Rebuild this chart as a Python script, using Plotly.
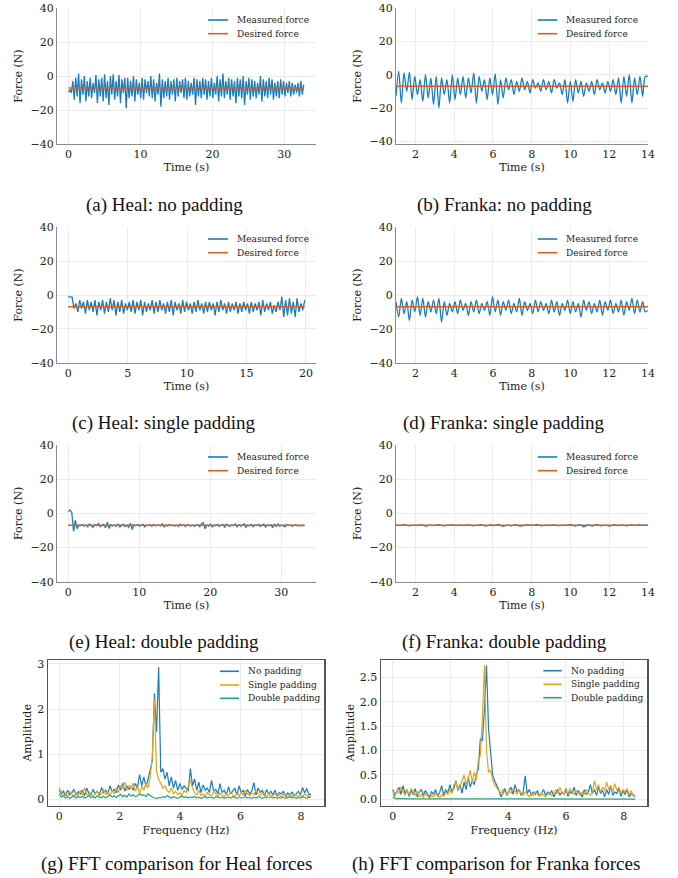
import numpy as np
import plotly.graph_objects as go

W, H = 678, 878

# ======================= DATA =======================
DESIRED_FORCE = -7.0
MEASURED_LABEL = "Measured force"
DESIRED_LABEL = "Desired force"
FFT_LABELS = ["No padding", "Single padding", "Double padding"]

# (a) Heal: no padding  (time span in s, force in N)
heal_none_span = (0.0, 32.7)
heal_none_force = [
    -9.5, -8, -10, -3, -14, -1, -12, 1.5, -16, -2, -11, 0, -15, -3, -12, -1, -13, -4, -10, 0.5,
    -16, -2, -12, -1, -15, 1, -13, -3, -17, 0, -11, 1, -14, -3, -12, 0.5, -16, -2, -10, -1,
    -19, -1, -13, -3, -12, 0, -15, -2, -11, -4, -13, -1, -14, -2, -10, -3, -12, 0, -13, -2,
    -15, -4, -11, 1.5, -18, -2, -13, -3, -12, -1, -14, -3, -11, -2, -15, -1, -12, -3, -10, -2,
    -13, -1, -14, -3, -12, -4, -11, -1, -17, -2, -12, -3, -13, -1, -11, -2, -14, -3, -12, -1,
    -13, -4, -11, 0, -15, -2, -12, 1.5, -13, -3, -11, -1, -14, -2, -12, -3, -16, -1, -12, -2,
    -13, 0, -17, -3, -11, -1, -14, -2, -12, -3, -13, -4, -11, 0, -15, -2, -12, -3, -13, -1,
    -11, -2, -14, -4, -12, -3, -13, -2, -11, -3, -12, -4, -10, -3, -12, -4, -11, -5, -10, -4,
    -12, -3, -11, -5,
]
heal_none_ticks = [0, 10, 20, 30]

# (b) Franka: no padding
franka_none_span = (1.0, 14.0)
franka_none_force = [
    -13, 2, -17, 1, -10, 1.5, -15, -1, -12, -3, -16, 0, -14, -2, -18, -1, -20, -2, -12, -3,
    -17, 0, -15, -2, -12, -1, -14, -2, -11, 1, -17, -1, -10, -3, -15, -2, -12, 0.5, -18, -3,
    -14, -2, -9, -3, -12, -4, -10, -2, -9, -4, -11, -3, -8, -5, -10, -3, -9, -4, -11, -3,
    -8, -5, -12, -3, -17, -4, -16, -3, -11, -4, -13, -5, -10, -4, -12, -3, -9, -5, -11, -4,
    -10, -3, -12, -2, -17, -1, -13, 0, -17, -2, -12, -1, -13, -1, -1,
]
franka_ticks = [2, 4, 6, 8, 10, 12, 14]

# (c) Heal: single padding
heal_single_span = (0.0, 19.9)
heal_single_force = [
    -1, -1, -1.2, -8,
    -5, -10, -3, -8, -4, -11, -3, -9, -4, -10, -3, -12, -4, -9, -3, -11, -4, -10, -2, -9,
    -3, -12, -4, -10, -3, -11, -5, -9, -4, -10, -3, -11, -4, -9, -3, -12, -4, -10, -5, -9,
    -3, -11, -4, -10, -3, -9, -5, -11, -4, -10, -3, -12, -4, -9, -5, -11, -3, -10, -4, -9,
    -5, -11, -4, -10, -3, -9, -5, -11, -4, -10, -4, -9, -5, -12, -4, -10, -3, -9, -5, -11,
    -4, -10, -5, -9, -4, -11, -5, -10, -4, -9, -5, -11, -4, -10, -5, -9, -4, -12, -3, -10,
    -5, -9, -4, -11, -6, -10, -4, -9, -1, -13, -3, -12, -2, -11, -4, -13, -2, -10, -5, -9, -3,
]
heal_single_ticks = [0, 5, 10, 15, 20]

# (d) Franka: single padding
franka_single_span = (1.0, 14.0)
franka_single_force = [
    -4, -13, -2, -11, -4, -15, -3, -10, -1, -12, -2, -13, -4, -10, -3, -11, -2, -16, -4, -12,
    -5, -10, -4, -11, -3, -9, -5, -12, -4, -10, -3, -11, -5, -9, -4, -12, -1, -10, -3, -12,
    -4, -9, -3, -11, -5, -10, -2, -12, -4, -9, -5, -11, -3, -10, -4, -9, -5, -11, -3, -10,
    -4, -12, -5, -9, -3, -11, -4, -10, -5, -13, -3, -9, -4, -11, -5, -10, -3, -12, -4, -9,
    -3, -11, -5, -10, -3, -12, -4, -9, -2, -11, -3, -10, -4, -10, -9,
]

# (e) Heal: double padding
heal_double_span = (0.0, 33.3)
heal_double_force = [
    1, 2, 0.5, -10.5, -4, -9, -7, -7.2, -6.5, -7.5, -6.8, -7.8, -6.2, -7.4, -8.2, -6.6, -7.2, -6, -7.8, -7,
    -6.4, -8.4, -5.2, -8.8, -6.6, -7.4, -6.8, -7.6, -6.3, -7.9, -7, -6.5, -7.7, -6.9, -8.2, -5.8, -9.4, -6.8, -7.3, -6.6,
    -7.5, -7, -6.4, -7.8, -6.9, -7.2, -6.7, -7.6, -6.5, -7.3, -7, -6.8, -7.4, -6.2, -7.9, -6.8, -7.5, -6.6, -7.2, -7,
    -7.4, -6.9, -7.6, -6.4, -7.3, -6.8, -7.7, -6.6, -7.1, -7.4, -6.9, -7.6, -7, -6.7, -7.8, -6.1, -5.5, -9, -6.8, -7.5,
    -6.4, -7.8, -6.9, -7.3, -6.5, -7.7, -7, -6.6, -8, -6.4, -7.2, -7.6, -6.8, -7.3, -6.3, -7.9, -6.6, -7.5, -7, -6.2,
    -8.2, -6.7, -7.4, -6.5, -7.9, -6.9, -7.2, -6.4, -7.6, -7, -6.3, -8, -6.8, -7.3, -6.6, -8.4, -6.5, -7.7, -6.2, -7.5,
    -6.9, -7.3, -7.8, -6.6, -7.2, -6.8, -7.5, -7, -6.7, -7.4, -7.1, -7.3, -7, -7.2,
]
heal_double_ticks = [0, 10, 20, 30]

# (f) Franka: double padding
franka_double_span = (1.0, 14.0)
franka_double_force = [
    -6.8, -7.2, -6.6, -7.3, -6.9, -7.1, -6.7, -7.4, -6.9, -7.2, -6.6, -7.3, -7, -6.8, -7.2, -6.9, -7.1, -6.7, -7.3, -7,
    -6.6, -7.5, -6.8, -7.2, -6.5, -7.6, -6.9, -7.3, -6.6, -7.4, -7.1, -6.8, -7.2, -6.5, -7.3, -6.9, -7.1, -6.8, -7.2, -6.9,
    -7, -6.7, -7.4, -6.6, -7.8, -6.7, -7.4, -6.5, -7.3, -6.9, -7.5, -6.6, -7.2, -6.8, -7.3, -6.7, -7.1, -6.8, -7, -6.9,
]

# (g) FFT of Heal forces (frequency span 0..fmax Hz)
heal_fft_fmax = 8.33
heal_fft_none = [
    0.22, 0.12, 0.18, 0.08, 0.2, 0.1, 0.15, 0.22, 0.09, 0.17,
    0.12, 0.2, 0.08, 0.25, 0.14, 0.1, 0.22, 0.13, 0.18, 0.1,
    0.26, 0.15, 0.2, 0.12, 0.3, 0.18, 0.22, 0.14, 0.32, 0.2,
    0.36, 0.18, 0.3, 0.22, 0.28, 0.2, 0.35, 0.25, 0.55, 0.3,
    0.5, 0.28, 0.45, 0.62, 0.85, 2.35, 1.5, 2.93, 0.6, 0.68,
    0.45, 0.6, 0.3, 0.5, 0.25, 0.42, 0.2, 0.35, 0.22, 0.3,
    0.25, 0.18, 0.68, 0.3, 0.45, 0.2, 0.38, 0.15, 0.32, 0.2,
    0.25, 0.15, 0.42, 0.18, 0.22, 0.12, 0.35, 0.15, 0.2, 0.1,
    0.28, 0.12, 0.18, 0.25, 0.1, 0.3, 0.15, 0.2, 0.08, 0.22,
    0.12, 0.18, 0.37, 0.1, 0.25, 0.15, 0.2, 0.08, 0.22, 0.12,
    0.18, 0.1, 0.2, 0.08, 0.15, 0.12, 0.18, 0.06, 0.14, 0.1,
    0.16, 0.08, 0.12, 0.18, 0.1, 0.26, 0.14, 0.24, 0.1, 0.12,
]
heal_fft_single = [
    0.25, 0.15, 0.08, 0.12, 0.06, 0.18, 0.1, 0.05, 0.14, 0.08,
    0.2, 0.1, 0.26, 0.12, 0.08, 0.15, 0.06, 0.12, 0.18, 0.08,
    0.12, 0.22, 0.1, 0.16, 0.08, 0.2, 0.12, 0.25, 0.15, 0.3,
    0.25, 0.38, 0.2, 0.3, 0.25, 0.36, 0.18, 0.28, 0.12, 0.3,
    0.2, 0.35, 0.25, 0.5, 0.95, 2.22, 0.6, 0.45, 0.35, 0.25,
    0.3, 0.2, 0.15, 0.25, 0.12, 0.18, 0.1, 0.15, 0.08, 0.2,
    0.15, 0.3, 0.42, 0.25, 0.15, 0.1, 0.2, 0.08, 0.12, 0.06,
    0.15, 0.1, 0.08, 0.18, 0.12, 0.06, 0.14, 0.1, 0.05, 0.12,
    0.08, 0.15, 0.1, 0.06, 0.12, 0.08, 0.16, 0.1, 0.2, 0.12,
    0.08, 0.14, 0.1, 0.2, 0.12, 0.08, 0.15, 0.1, 0.06, 0.12,
    0.1, 0.08, 0.14, 0.06, 0.1, 0.05, 0.12, 0.08, 0.04, 0.1,
    0.06, 0.12, 0.08, 0.05, 0.1, 0.06, 0.12, 0.08, 0.05, 0.1,
]
heal_fft_double = [
    0.12, 0.05, 0.08, 0.03, 0.06, 0.02, 0.05, 0.08, 0.03, 0.06,
    0.04, 0.07, 0.03, 0.05, 0.09, 0.04, 0.06, 0.03, 0.08, 0.05,
    0.04, 0.07, 0.03, 0.06, 0.1, 0.05, 0.08, 0.04, 0.07, 0.11,
    0.06, 0.09, 0.05, 0.12, 0.07, 0.1, 0.06, 0.08, 0.12, 0.09,
    0.1, 0.06, 0.12, 0.08, 0.05, 0.03, 0.02, 0.04, 0.03, 0.06,
    0.04, 0.08, 0.05, 0.03, 0.06, 0.04, 0.02, 0.05, 0.07, 0.04,
    0.06, 0.03, 0.05, 0.04, 0.07, 0.03, 0.05, 0.02, 0.04, 0.06,
    0.03, 0.05, 0.04, 0.02, 0.06, 0.04, 0.03, 0.05, 0.02, 0.04,
    0.05, 0.03, 0.06, 0.04, 0.02, 0.05, 0.03, 0.04, 0.06, 0.03,
    0.04, 0.02, 0.05, 0.03, 0.06, 0.04, 0.02, 0.05, 0.03, 0.04,
    0.06, 0.03, 0.05, 0.02, 0.04, 0.03, 0.05, 0.02, 0.04, 0.06,
    0.03, 0.05, 0.02, 0.04, 0.03, 0.06, 0.04, 0.02, 0.05, 0.04,
]

# (h) FFT of Franka forces
franka_fft_fmax = 8.4
franka_fft_none = [
    0.2, 0.08, 0.15, 0.25, 0.1, 0.28, 0.12, 0.2, 0.06, 0.18,
    0.1, 0.22, 0.05, 0.15, 0.2, 0.08, 0.18, 0.12, 0.04, 0.16,
    0.1, 0.2, 0.06, 0.14, 0.28, 0.08, 0.2, 0.12, 0.3, 0.15,
    0.22, 0.38, 0.18, 0.3, 0.12, 0.35, 0.2, 0.45, 0.25, 0.38,
    0.3, 0.5, 0.62, 1.25, 1.2, 1.85, 2.74, 1.45, 1.0, 0.5,
    0.38, 0.3, 0.2, 0.05, 0.12, 0.22, 0.08, 0.18, 0.25, 0.1,
    0.3, 0.15, 0.2, 0.08, 0.15, 0.48, 0.12, 0.2, 0.08, 0.15,
    0.1, 0.18, 0.06, 0.12, 0.2, 0.08, 0.15, 0.1, 0.18, 0.05,
    0.12, 0.2, 0.08, 0.15, 0.1, 0.22, 0.06, 0.16, 0.12, 0.25,
    0.08, 0.18, 0.12, 0.05, 0.2, 0.1, 0.15, 0.3, 0.12, 0.2,
    0.08, 0.25, 0.12, 0.18, 0.05, 0.2, 0.1, 0.28, 0.08, 0.15,
    0.12, 0.22, 0.06, 0.18, 0.1, 0.2, 0.05, 0.12, 0.08, 0.05,
]
franka_fft_single = [
    0.1, 0.05, 0.2, 0.12, 0.25, 0.15, 0.08, 0.18, 0.1, 0.22,
    0.14, 0.08, 0.16, 0.05, 0.1, 0.04, 0.12, 0.06, 0.02, 0.08,
    0.05, 0.12, 0.08, 0.03, 0.1, 0.06, 0.15, 0.1, 0.2, 0.12,
    0.3, 0.35, 0.2, 0.25, 0.38, 0.5, 0.3, 0.42, 0.6, 0.35,
    0.55, 0.4, 0.8, 0.9, 1.7, 2.74, 1.0, 0.55, 0.6, 0.4,
    0.3, 0.25, 0.18, 0.12, 0.2, 0.15, 0.1, 0.18, 0.12, 0.22,
    0.15, 0.1, 0.2, 0.12, 0.08, 0.15, 0.1, 0.05, 0.12, 0.08,
    0.15, 0.1, 0.06, 0.12, 0.08, 0.05, 0.1, 0.14, 0.08, 0.12,
    0.2, 0.12, 0.25, 0.15, 0.1, 0.18, 0.12, 0.22, 0.15, 0.1,
    0.18, 0.12, 0.08, 0.15, 0.1, 0.2, 0.12, 0.08, 0.15, 0.38,
    0.2, 0.3, 0.15, 0.25, 0.18, 0.35, 0.2, 0.28, 0.15, 0.32,
    0.18, 0.25, 0.12, 0.2, 0.15, 0.22, 0.1, 0.18, 0.08, 0.1,
]
franka_fft_double = [
    0.05, 0.02, 0.01, 0.02, 0.01, 0.02, 0.01, 0.01, 0.02, 0.01,
    0.02, 0.01, 0.02, 0.01, 0.01, 0.02, 0.01, 0.02, 0.01, 0.01,
    0.02, 0.01, 0.01, 0.02, 0.01, 0.01, 0.02, 0.01, 0.01, 0.01,
    0.01, 0.02, 0.01, 0.01, 0.01, 0.02, 0.01, 0.01, 0.01, 0.01,
    0.01, 0.01, 0.02, 0.01, 0.02, 0.01, 0.01, 0.01, 0.01, 0.01,
    0.01, 0.005, 0.01, 0.005, 0.01, 0.01, 0.005, 0.01, 0.005, 0.01,
    0.005, 0.01, 0.005, 0.01, 0.005, 0.005, 0.01, 0.005, 0.01, 0.005,
    0.01, 0.005, 0.005, 0.01, 0.005, 0.01, 0.005, 0.005, 0.01, 0.005,
    0.01, 0.005, 0.01, 0.005, 0.005, 0.01, 0.005, 0.01, 0.005, 0.005,
    0.01, 0.005, 0.005, 0.01, 0.005, 0.01, 0.005, 0.005, 0.01, 0.005,
    0.01, 0.005, 0.01, 0.005, 0.005, 0.01, 0.005, 0.01, 0.005, 0.005,
    0.01, 0.005, 0.005, 0.01, 0.005, 0.01, 0.005, 0.005, 0.01, 0.005,
]
fft_freq_ticks = [0, 2, 4, 6, 8]

CAPTIONS = [
    "(a) Heal: no padding", "(b) Franka: no padding",
    "(c) Heal: single padding", "(d) Franka: single padding",
    "(e) Heal: double padding", "(f) Franka: double padding",
    "(g) FFT comparison for Heal forces", "(h) FFT comparison for Franka forces",
]

# ======================= STYLE / LAYOUT =======================
BLUE = "#1a7cbf"
RED_ORANGE = "#d8621c"
FFT_COLORS = ["#1b7dbd", "#e8a317", "#1fa67f"]
GRID = "#ebebeb"
SERIF = "DejaVu Serif"
CAP_FONT = "Liberation Serif"

def px_x(a, b):
    return [a / W, b / W]

def px_y(top, bottom):
    return [1 - bottom / H, 1 - top / H]

fig = go.Figure()

force_panels = [
    # data, span, ticks, x-dom(px), y-dom(px), x-range, y-range, spline, legend(px)
    (heal_none_force, heal_none_span, heal_none_ticks, (57, 316), (8, 144), [-1.6, 34.4], [-40, 40], False,
     (208, 228, 235, [20, 33.7])),
    (franka_none_force, franka_none_span, franka_ticks, (396, 648), (8, 144), [1, 14], [-41.6, 40], True,
     (537.7, 557.3, 564, [20, 33.7])),
    (heal_single_force, heal_single_span, heal_single_ticks, (57, 316), (227.3, 362.7), [-0.95, 20.85], [-40, 40], False,
     (208, 228, 235, [239, 252.7])),
    (franka_single_force, franka_single_span, franka_ticks, (396, 648), (227.3, 362.7), [1, 14], [-40, 40], True,
     (537.7, 557.3, 564, [239, 252.7])),
    (heal_double_force, heal_double_span, heal_double_ticks, (57, 316), (445, 581.7), [-1.58, 34.9], [-40, 40], False,
     (208, 228, 235, [457, 470.7])),
    (franka_double_force, franka_double_span, franka_ticks, (396, 648), (445, 581.7), [1, 14], [-40, 40], False,
     (537.7, 557.3, 564, [457, 470.7])),
]

shapes = []
annotations = []
layout_axes = {}

tick_font = dict(family=SERIF, size=11, color="#222")
title_font = dict(family=SERIF, size=11, color="#222")
leg_font = dict(family=SERIF, size=9, color="#222")

def add_legend(spec, labels, colors):
    x0, x1, tx, ys = spec
    for lab, col, yy in zip(labels, colors, ys):
        shapes.append(dict(type="line", xref="paper", yref="paper",
                           x0=x0 / W, x1=x1 / W, y0=1 - yy / H, y1=1 - yy / H,
                           line=dict(color=col, width=1.6)))
        annotations.append(dict(text=lab, xref="paper", yref="paper", x=tx / W, y=1 - yy / H,
                                xanchor="left", yanchor="middle", showarrow=False, font=leg_font))

for i, (vals, span, ticks, xd, yd, xr, yr, spline, leg) in enumerate(force_panels, start=1):
    sfx = "" if i == 1 else str(i)
    t = np.linspace(span[0], span[1], len(vals))
    fig.add_trace(go.Scatter(x=t, y=vals, mode="lines", name=MEASURED_LABEL,
                             line=dict(color=BLUE, width=1.3, shape="spline" if spline else "linear", smoothing=0.8),
                             xaxis="x" + sfx, yaxis="y" + sfx, showlegend=False))
    fig.add_trace(go.Scatter(x=[span[0], span[1]], y=[DESIRED_FORCE, DESIRED_FORCE], mode="lines",
                             name=DESIRED_LABEL, line=dict(color=RED_ORANGE, width=1.5),
                             xaxis="x" + sfx, yaxis="y" + sfx, showlegend=False))
    layout_axes["xaxis" + sfx] = dict(
        domain=px_x(*xd), range=xr, anchor="y" + sfx, tickvals=ticks, showgrid=True, gridcolor=GRID,
        gridwidth=1, showline=True, linecolor="#8a8a8a", linewidth=1, zeroline=False, ticks="",
        tickfont=tick_font, title=dict(text="Time (s)", font=title_font, standoff=3))
    layout_axes["yaxis" + sfx] = dict(
        domain=px_y(*yd), range=yr, anchor="x" + sfx, tickvals=[-40, -20, 0, 20, 40], showgrid=True,
        gridcolor=GRID, gridwidth=1, showline=True, linecolor="#8a8a8a", linewidth=1, zeroline=False,
        ticks="", tickfont=tick_font, title=dict(text="Force (N)", font=title_font, standoff=5))
    add_legend(leg, [MEASURED_LABEL, DESIRED_LABEL], [BLUE, RED_ORANGE])

fft_panels = [
    ([heal_fft_none, heal_fft_single, heal_fft_double], heal_fft_fmax, (47.7, 324.3), (659.7, 806),
     [-0.38, 8.77], [-0.148, 3.095], [0, 1, 2, 3], "", (220, 239, 245.7, [671.3, 685, 698.3])),
    ([franka_fft_none, franka_fft_single, franka_fft_double], franka_fft_fmax, (380.7, 647.3), (659.7, 806),
     [-0.42, 8.82], [-0.137, 2.86], [0, 0.5, 1, 1.5, 2, 2.5], ".1f", (543.3, 561.7, 568.7, [670.7, 684.3, 697.7])),
]

for j, (series, fmax, xd, yd, xr, yr, yt, yfmt, leg) in enumerate(fft_panels, start=7):
    sfx = str(j)
    for lab, col, vals in zip(FFT_LABELS, FFT_COLORS, series):
        f = np.linspace(0, fmax, len(vals))
        fig.add_trace(go.Scatter(x=f, y=vals, mode="lines", name=lab, line=dict(color=col, width=1.2),
                                 xaxis="x" + sfx, yaxis="y" + sfx, showlegend=False))
    layout_axes["xaxis" + sfx] = dict(
        domain=px_x(*xd), range=xr, anchor="y" + sfx, tickvals=fft_freq_ticks, showgrid=True, gridcolor=GRID,
        showline=True, mirror=True, linecolor="#555", linewidth=1.2, zeroline=False, ticks="",
        tickfont=tick_font, title=dict(text="Frequency (Hz)", font=title_font, standoff=3))
    layout_axes["yaxis" + sfx] = dict(
        domain=px_y(*yd), range=yr, anchor="x" + sfx, tickvals=yt, tickformat=yfmt, showgrid=True,
        gridcolor=GRID, showline=True, mirror=True, linecolor="#555", linewidth=1.2, zeroline=False,
        ticks="", tickfont=tick_font, title=dict(text="Amplitude", font=title_font, standoff=3))
    add_legend(leg, FFT_LABELS, FFT_COLORS)

caption_pos = [(164.5, 205), (504, 205), (164.3, 423), (504, 423), (164.3, 642), (504.5, 642),
               (176, 864), (495.5, 864)]
for txt, (cx, cy) in zip(CAPTIONS, caption_pos):
    annotations.append(dict(text=txt, xref="paper", yref="paper", x=cx / W, y=1 - cy / H,
                            xanchor="center", yanchor="middle", showarrow=False,
                            font=dict(family=CAP_FONT, size=19, color="#111")))

fig.update_layout(
    template="none",
    width=W, height=H,
    margin=dict(l=0, r=0, t=0, b=0),
    paper_bgcolor="white", plot_bgcolor="white",
    showlegend=False,
    shapes=shapes, annotations=annotations,
    **layout_axes,
)

fig.write_html("out.html", config={"displayModeBar": False, "staticPlot": True},
               post_script="document.body.style.margin='0';document.body.style.overflow='hidden';")
